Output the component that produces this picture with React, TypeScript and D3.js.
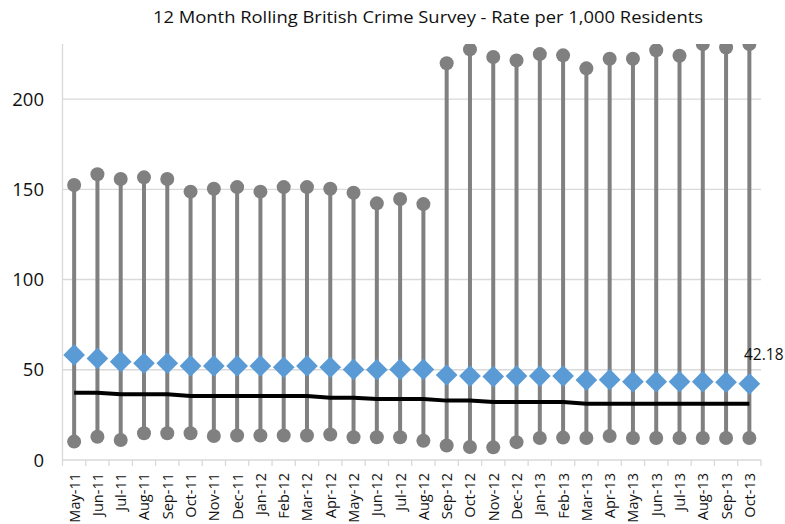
import React from "react";
import * as d3 from "d3";

const months = ["May-11","Jun-11","Jul-11","Aug-11","Sep-11","Oct-11","Nov-11","Dec-11","Jan-12","Feb-12","Mar-12","Apr-12","May-12","Jun-12","Jul-12","Aug-12","Sep-12","Oct-12","Nov-12","Dec-12","Jan-13","Feb-13","Mar-13","Apr-13","May-13","Jun-13","Jul-13","Aug-13","Sep-13","Oct-13"];
const maxVals = [152.4,158.3,155.7,156.6,155.7,148.7,150.3,151.2,148.7,151.2,151.2,150.3,148.1,142.2,144.6,141.8,219.8,227.5,223.3,221.4,224.9,224.2,217.0,222.3,222.3,227.0,224.0,230.5,228.6,230.5];
const minVals = [10.2,12.9,11.1,14.8,14.8,14.8,13.3,13.6,13.6,13.6,13.6,14.1,12.6,12.6,12.6,10.7,8.0,7.2,7.0,9.9,12.2,12.4,12.2,13.3,12.2,12.2,12.2,12.2,12.2,12.2];
const rateVals = [58.2,56.3,54.5,53.6,53.6,52.1,52.1,52.1,52.1,51.4,52.1,51.4,50.2,50.0,50.2,50.2,47.1,46.5,46.2,46.5,46.5,46.5,44.3,44.5,43.4,43.4,43.4,43.4,43.1,42.18];
const avgVals = [37.3,37.3,36.4,36.4,36.4,35.5,35.5,35.5,35.5,35.5,35.5,34.5,34.5,33.8,33.8,33.8,32.9,32.9,32.1,32.1,32.1,32.1,31.2,31.2,31.2,31.2,31.2,31.2,31.2,31.2];
const yTicks = [0, 50, 100, 150, 200];
const title = "12 Month Rolling British  Crime Survey - Rate per  1,000 Residents";
const lastLabel = "42.18";

const W = 785, H = 524;
const left = 62.5, right = 761, top = 44, bottom = 460;
const font = "'Open Sans', 'Liberation Sans', sans-serif";

export default function App() {
  const x = d3.scaleBand<string>().domain(months).range([left, right]);
  const y = d3.scaleLinear().domain([0, 230.5]).range([bottom, top]);
  const cx = (m: string) => (x(m) ?? 0) + x.bandwidth() / 2;
  const line = d3.line<number>().x((_, i) => cx(months[i])).y(d => y(d));
  const diamond = d3.symbol().type(d3.symbolDiamond2).size(300)();
  const boundaries = d3.range(months.length + 1).map(i => left + i * x.step());

  return (
    <svg width={W} height={H} style={{ position: "absolute", left: 0, top: 0, background: "#fff" }}>
      <defs>
        <clipPath id="plot">
          <rect x={0} y={top} width={W} height={bottom - top + 30} />
        </clipPath>
      </defs>
      <text x={428} y={23} textAnchor="middle" fontFamily={font} fontSize={16.5} fill="#111" textLength={550} lengthAdjust="spacingAndGlyphs">{title}</text>
      {yTicks.filter(t => t > 0).map(t => (
        <line key={t} x1={left} x2={right} y1={y(t)} y2={y(t)} stroke="#d9d9d9" strokeWidth={1.3} />
      ))}
      <line x1={left} x2={left} y1={top} y2={bottom} stroke="#d9d9d9" strokeWidth={1.3} />
      <line x1={left} x2={right} y1={bottom} y2={bottom} stroke="#d9d9d9" strokeWidth={1.3} />
      {boundaries.map((b, i) => (
        <line key={i} x1={b} x2={b} y1={bottom} y2={bottom + 6} stroke="#d9d9d9" strokeWidth={1.3} />
      ))}
      {yTicks.map(t => (
        <text key={t} x={44} y={y(t) + 6.5} textAnchor="end" fontFamily={font} fontSize={18.5} fill="#111">{t}</text>
      ))}
      {months.map(m => (
        <text key={m} transform={`translate(${cx(m) + 5.5},${bottom + 13}) rotate(-90)`} textAnchor="end" fontFamily={font} fontSize={14.5} fill="#111">{m}</text>
      ))}
      <g clipPath="url(#plot)">
        {months.map((m, i) => (
          <g key={m}>
            <line x1={cx(m)} x2={cx(m)} y1={y(minVals[i])} y2={y(maxVals[i])} stroke="#808080" strokeWidth={4} />
            <circle cx={cx(m)} cy={y(maxVals[i])} r={7} fill="#808080" />
            <circle cx={cx(m)} cy={y(minVals[i])} r={7} fill="#808080" />
          </g>
        ))}
        <path d={line(avgVals) ?? ""} fill="none" stroke="#000" strokeWidth={4} />
        {months.map((m, i) => (
          <path key={m} d={diamond ?? ""} transform={`translate(${cx(m)},${y(rateVals[i])})`} fill="#5b9bd5" />
        ))}
      </g>
      <text x={744} y={360} fontFamily={font} fontSize={15.5} fill="#111">{lastLabel}</text>
    </svg>
  );
}
